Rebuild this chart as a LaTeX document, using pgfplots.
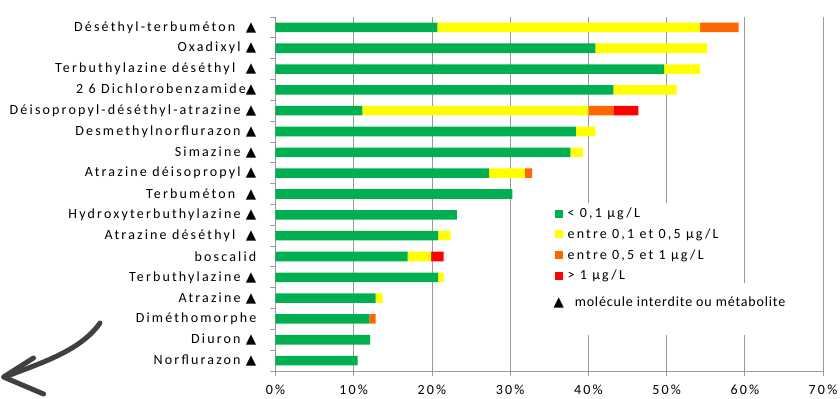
\documentclass[border=0pt]{standalone}
\usepackage{pgfplots}
\pgfplotsset{compat=1.18}
\usepackage{fontspec}
\setmainfont{Carlito}[LetterSpace=15.5]
\newfontfamily\notefont{Carlito}[LetterSpace=6]
\newfontfamily\sym{DejaVu Sans}
\newcommand\tri{{\sym\fontsize{13.5bp}{13.5bp}\selectfont ▲}}
\newcommand\lfont{\fontsize{14bp}{16bp}\selectfont}
\definecolor{cg}{HTML}{00B050}
\definecolor{cy}{HTML}{FFFF00}
\definecolor{co}{HTML}{FF6600}
\definecolor{cr}{HTML}{FF0000}
\definecolor{ax}{HTML}{9A9A9A}
\begin{document}
\begin{tikzpicture}[font=\lfont]
\useasboundingbox (-275.5bp,-28bp) rectangle (564.5bp,371bp);
\begin{axis}[
  at={(0,0)}, anchor=south west,
  xbar stacked, bar width=0.46,
  width=547.5bp, height=354bp, scale only axis,
  xmin=0, xmax=70, ymin=-0.5, ymax=16.5, y dir=reverse,
  axis x line*=bottom, axis y line*=left,
  axis line style={ax, line width=0.8bp},
  xtick={0,10,...,70},
  xticklabel={\pgfmathprintnumber{\tick}\%},
  /pgf/number format/assume math mode=true,
  tick label style={font=\lfont},
  ytick={0,...,16},
  yticklabels={{Déséthyl-terbuméton \ \tri},{Oxadixyl \tri},{Terbuthylazine déséthyl \ \tri},{2 6 Dichlorobenzamide\tri},{Déisopropyl-déséthyl-atrazine \tri},{Desmethylnorflurazon \tri},{Simazine \tri},{Atrazine déisopropyl \tri},{Terbuméton \ \tri},{Hydroxyterbuthylazine \tri},{Atrazine déséthyl \ \tri},{boscalid},{Terbuthylazine \tri},{Atrazine \tri},{Diméthomorphe},{Diuron \tri},{Norflurazon \tri}},
  minor ytick={-0.5,0.5,...,16.5},
  xmajorgrids, major x grid style={ax, line width=0.8bp},
  tick align=outside, major tick length=5bp, minor tick length=5bp,
  major y tick style={draw=none}, minor y tick style={ax, line width=0.8bp},
  major x tick style={ax, line width=0.8bp},
  yticklabel style={inner sep=0pt, xshift=-14bp},
  xticklabel style={inner sep=0pt, yshift=-9bp},
  legend cell align=left,
  legend image code/.code={\fill[#1] (0bp,-4bp) rectangle (8bp,4bp); \path (11bp,0bp);},
  legend style={at={(0.504,0.475)}, anchor=north west, draw=none, fill=white,
     inner sep=3bp, row sep=5.5bp, font=\lfont},
]
\addplot[fill=cg, draw=none] coordinates {(20.7,0) (40.9,1) (49.7,2) (43.2,3) (11.1,4) (38.4,5) (37.7,6) (27.3,7) (30.3,8) (23.2,9) (20.8,10) (16.9,11) (20.8,12) (12.8,13) (12.0,14) (12.1,15) (10.5,16)};
\addplot[fill=cy, draw=none] coordinates {(33.6,0) (14.3,1) (4.6,2) (8.1,3) (28.9,4) (2.5,5) (1.6,6) (4.6,7) (0,8) (0,9) (1.6,10) (3.0,11) (0.7,12) (0.9,13) (0,14) (0,15) (0,16)};
\addplot[fill=co, draw=none] coordinates {(4.9,0) (0,1) (0,2) (0,3) (3.2,4) (0,5) (0,6) (0.9,7) (0,8) (0,9) (0,10) (0,11) (0,12) (0,13) (0.8,14) (0,15) (0,16)};
\addplot[fill=cr, draw=none] coordinates {(0,0) (0,1) (0,2) (0,3) (3.2,4) (0,5) (0,6) (0,7) (0,8) (0,9) (0,10) (1.6,11) (0,12) (0,13) (0,14) (0,15) (0,16)};
\legend{{< 0,1 µg/L},{entre 0,1 et 0,5 µg/L},{entre 0,5 et 1 µg/L},{> 1 µg/L}}
\end{axis}
\fill[white] (274.5bp,36bp) rectangle (534.5bp,88bp);
\node[anchor=west, inner sep=0pt] at (278bp,69bp) {\tri\ \ \notefont molécule interdite ou métabolite};
\draw[line width=5bp, color=black!75, line cap=round] (-175.5bp,48bp) .. controls (-195bp,20bp) and (-235bp,8bp) .. (-268bp,-5bp);
\draw[line width=5bp, color=black!75, line cap=round, line join=round] (-242bp,13bp) -- (-272bp,-6bp) -- (-232bp,-23bp);
\end{tikzpicture}
\end{document}
